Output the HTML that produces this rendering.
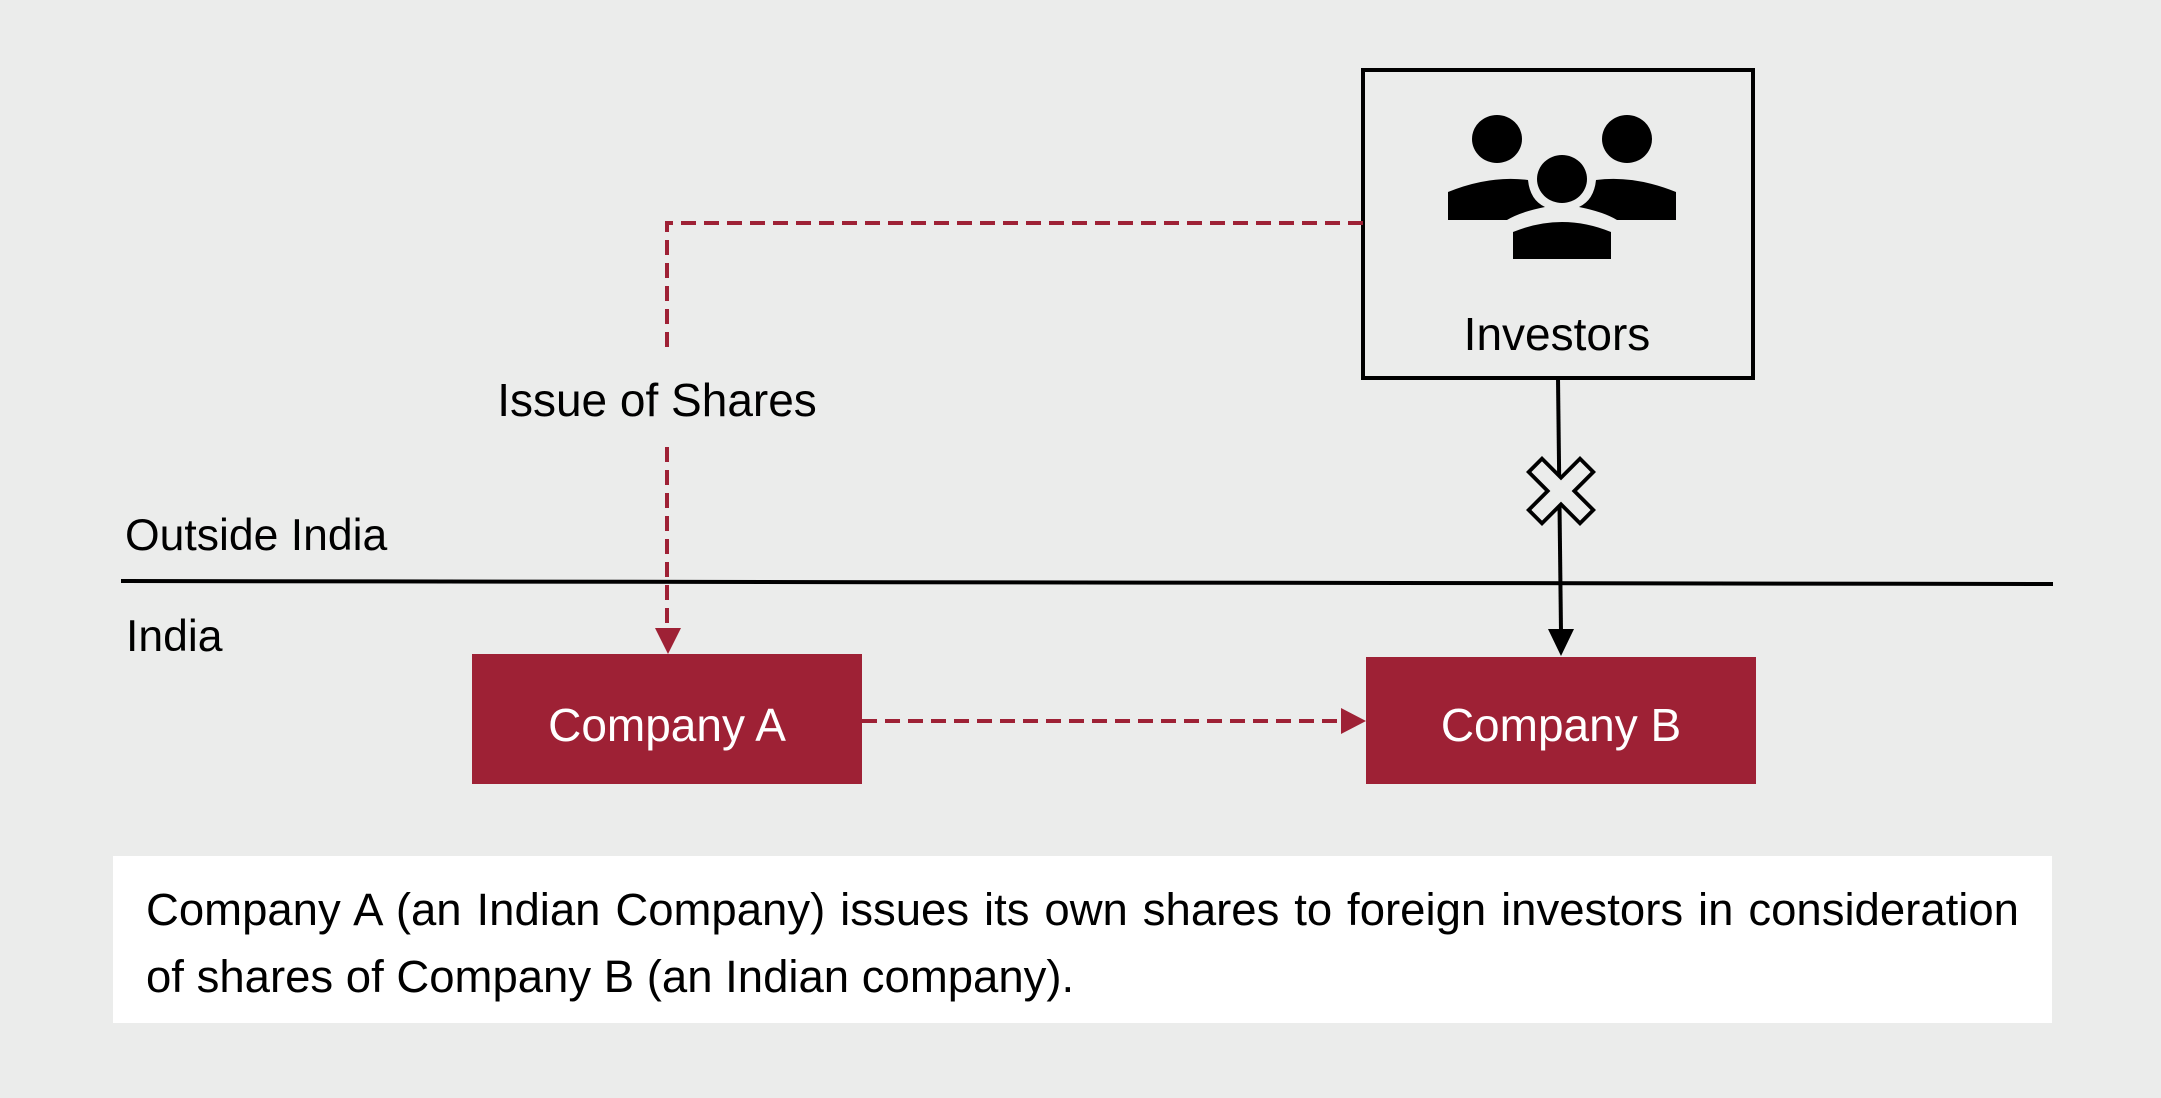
<!DOCTYPE html>
<html><head><meta charset="utf-8"><style>
html,body{margin:0;padding:0;background:#ebeceb;}
body{width:2161px;height:1098px;position:relative;overflow:hidden;font-family:"Liberation Sans",Arial,sans-serif;}
.cap{position:absolute;left:113px;top:856px;width:1939px;height:167px;background:#fff;}
.cap div{position:absolute;left:33px;width:1873px;font-size:45.5px;color:#000;white-space:nowrap;}
.l1{top:28px;text-align:justify;text-align-last:justify;}
.l2{top:95px;}
</style></head><body>
<svg width="2161" height="1098" style="position:absolute;left:0;top:0">
  <rect x="1363" y="70" width="390" height="308" fill="none" stroke="#000" stroke-width="4"/>
  <g fill="#000">
    <ellipse cx="1497" cy="139" rx="25" ry="24"/>
    <ellipse cx="1627" cy="139" rx="25" ry="24"/>
    <path d="M1448 220 L1448 192 Q1490 175 1528 180 Q1530 200 1545 207 Q1520 212 1507 220 Z"/>
    <path d="M1676 220 L1676 192 Q1634 175 1596 180 Q1594 200 1579 207 Q1604 212 1617 220 Z"/>
    <ellipse cx="1562" cy="179" rx="25" ry="24"/>
    <path d="M1513 259 L1513 232 Q1562 212 1611 232 L1611 259 Z"/>
  </g>
  <line x1="1558" y1="378" x2="1561" y2="632" stroke="#000" stroke-width="4"/>
  <polygon points="1548,629 1574,629 1561,656" fill="#000"/>
  <g transform="translate(1561,491)">
    <path d="M-34,-20 L-20,-34 L0,-14 L20,-34 L34,-20 L14,0 L34,20 L20,34 L0,14 L-20,34 L-34,20 L-14,0 Z" fill="#ebeceb" stroke="#000" stroke-width="4" transform="scale(0.95,0.95)"/>
  </g>
  <line x1="121" y1="581" x2="2053" y2="584" stroke="#000" stroke-width="4"/>
  <g stroke="#9e2135" stroke-width="4" fill="none" stroke-dasharray="15,8">
    <path d="M1363 223 L667 223 L667 348"/>
    <line x1="667" y1="447" x2="667" y2="630"/>
    <line x1="862" y1="721" x2="1345" y2="721"/>
  </g>
  <polygon points="655,628 681,628 668,654" fill="#9e2135"/>
  <polygon points="1341,708 1341,734 1366,721" fill="#9e2135"/>
  <rect x="472" y="654" width="390" height="130" fill="#9e2135"/>
  <rect x="1366" y="657" width="390" height="127" fill="#9e2135"/>
  <text x="667" y="741" font-family="Liberation Sans, Arial, sans-serif" font-size="46" fill="#fff" text-anchor="middle">Company A</text>
  <text x="1561" y="741" font-family="Liberation Sans, Arial, sans-serif" font-size="46" fill="#fff" text-anchor="middle">Company B</text>
  <text x="1557" y="350" font-family="Liberation Sans, Arial, sans-serif" font-size="46" fill="#000" text-anchor="middle">Investors</text>
  <text x="657" y="416" font-family="Liberation Sans, Arial, sans-serif" font-size="46" fill="#000" text-anchor="middle">Issue of Shares</text>
  <text x="125" y="550" font-family="Liberation Sans, Arial, sans-serif" font-size="44.5" fill="#000">Outside India</text>
  <text x="126" y="651" font-family="Liberation Sans, Arial, sans-serif" font-size="44.5" fill="#000">India</text>
</svg>
<div class="cap"><div class="l1">Company A (an Indian Company) issues its own shares to foreign investors in consideration</div><div class="l2">of shares of Company B (an Indian company).</div></div>
</body></html>
